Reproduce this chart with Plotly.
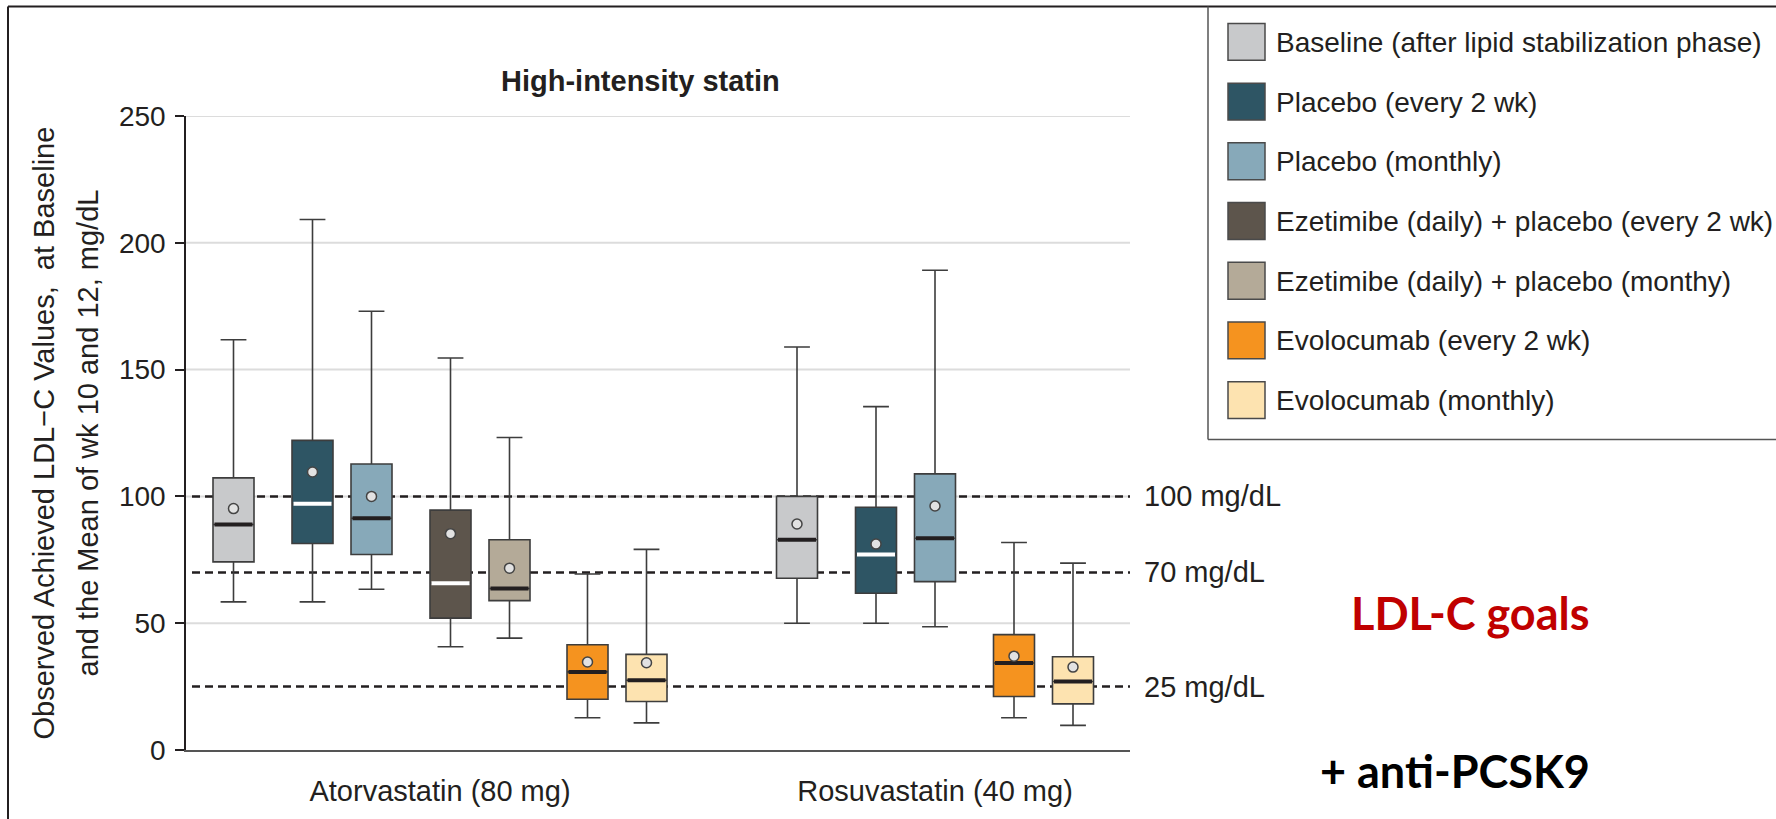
import plotly.graph_objects as go

# ---------------------------------------------------------------- data
treatments = [
    "Baseline (after lipid stabilization phase)",
    "Placebo (every 2 wk)",
    "Placebo (monthly)",
    "Ezetimibe (daily) + placebo (every 2 wk)",
    "Ezetimibe (daily) + placebo (monthy)",
    "Evolocumab (every 2 wk)",
    "Evolocumab (monthly)",
]
statins = ["Atorvastatin (80 mg)", "Rosuvastatin (40 mg)"]

# treatment indices shown in each statin group
atorva_arms = [0, 1, 2, 3, 4, 5, 6]
rosuva_arms = [0, 1, 2, 5, 6]

# LDL-C, mg/dL: whisker low, Q1, median, Q3, whisker high, mean
atorva_low = [58.4, 58.4, 63.4, 40.7, 44.1, 12.7, 10.7]
atorva_q1 = [74.2, 81.4, 77.1, 52.0, 58.9, 20.0, 19.1]
atorva_median = [88.9, 97.1, 91.4, 65.8, 63.7, 30.8, 27.5]
atorva_q3 = [107.3, 122.1, 112.8, 94.6, 82.9, 41.5, 37.7]
atorva_high = [161.8, 209.2, 173.0, 154.6, 123.2, 69.4, 79.1]
atorva_mean = [95.2, 109.6, 100.0, 85.3, 71.7, 34.7, 34.4]

rosuva_low = [50.0, 50.0, 48.6, 12.7, 9.7]
rosuva_q1 = [67.7, 61.8, 66.4, 21.1, 18.2]
rosuva_median = [82.9, 77.1, 83.5, 34.3, 27.0]
rosuva_q3 = [100.0, 95.7, 108.9, 45.5, 36.8]
rosuva_high = [158.9, 135.4, 189.2, 81.8, 73.7]
rosuva_mean = [89.1, 81.2, 96.2, 37.0, 32.7]

goal_values = [100, 70, 25]
goal_labels = ["100 mg/dL", "70 mg/dL", "25 mg/dL"]
y_ticks = [0, 50, 100, 150, 200, 250]

# ---------------------------------------------------------------- style
fill_colors = ["#c8c9cb", "#2e5564", "#87a9b9", "#5d554c", "#b4aa98", "#f5931f", "#fde3b0"]
median_colors = ["#231f20", "#ffffff", "#231f20", "#ffffff", "#231f20", "#231f20", "#231f20"]
edge = "#3d3d3d"
ink = "#231f20"
txt_font = "Liberation Sans, Arial, sans-serif"

FIG_W, FIG_H = 1776, 819
L, R, T, B = 186, 1130, 116, 753           # plot area in pixels
SLOTS = [0, 79, 138, 217, 276, 354, 413]    # box offsets inside a group
GROUP_START = [47.5, 611]
BOX_W = 41


def px(xp):
    return (xp - L) / (R - L)


def py(yp):
    return (B - yp) / (B - T)


groups = [
    (atorva_arms, atorva_low, atorva_q1, atorva_median, atorva_q3, atorva_high, atorva_mean),
    (rosuva_arms, rosuva_low, rosuva_q1, rosuva_median, rosuva_q3, rosuva_high, rosuva_mean),
]

fig = go.Figure()
group_centers = []
for g, (arms, lo, q1, med, q3, hi, mean) in enumerate(groups):
    xs = [GROUP_START[g] + SLOTS[i] for i in range(len(arms))]
    group_centers.append((xs[0] + xs[-1]) / 2)
    for i, arm in enumerate(arms):
        fig.add_trace(go.Box(
            x=[xs[i]], q1=[q1[i]], median=[med[i]], q3=[q3[i]],
            lowerfence=[lo[i]], upperfence=[hi[i]],
            width=BOX_W, whiskerwidth=0.63, boxpoints=False,
            fillcolor=fill_colors[arm], line=dict(color=edge, width=1.6),
            name=treatments[arm], showlegend=False, hoverinfo="skip",
        ))
        fig.add_trace(go.Scatter(
            x=[xs[i] - BOX_W / 2 + 1.5, xs[i] + BOX_W / 2 - 1.5], y=[med[i], med[i]],
            mode="lines", line=dict(color=median_colors[arm], width=4),
            showlegend=False, hoverinfo="skip",
        ))
    fig.add_trace(go.Scatter(
        x=xs, y=mean, mode="markers",
        marker=dict(symbol="circle", size=10, color="#e2e2e2",
                    line=dict(color="#444444", width=1.5)),
        showlegend=False, hoverinfo="skip",
    ))

shapes = []
annotations = []

# horizontal grid, drawn under the goal lines and the boxes
for v in y_ticks[1:]:
    shapes.append(dict(type="line", xref="x", yref="y", x0=0, x1=R - L, y0=v, y1=v,
                       line=dict(color="#dcdcdc", width=2), layer="below"))

# goal lines and their labels
for v, lab in zip(goal_values, goal_labels):
    shapes.append(dict(type="line", xref="x", yref="y", x0=6, x1=R - L, y0=v, y1=v,
                       line=dict(color=ink, width=2.5, dash="8px,5px"), layer="below"))
    annotations.append(dict(xref="paper", yref="y", x=px(1142), y=v, text=lab,
                            xanchor="left", yanchor="middle", showarrow=False,
                            font=dict(family=txt_font, size=29, color=ink)))

# outer frame (top and left edges)
shapes.append(dict(type="line", xref="paper", yref="paper", x0=px(8), x1=px(1790),
                   y0=py(6), y1=py(6), line=dict(color=ink, width=2)))
shapes.append(dict(type="line", xref="paper", yref="paper", x0=px(8), x1=px(8),
                   y0=py(6), y1=py(830), line=dict(color=ink, width=2)))

# legend frame
shapes.append(dict(type="line", xref="paper", yref="paper", x0=px(1208), x1=px(1208),
                   y0=py(6), y1=py(441), line=dict(color="#555555", width=1.5)))
shapes.append(dict(type="line", xref="paper", yref="paper", x0=px(1208), x1=px(1790),
                   y0=py(441), y1=py(441), line=dict(color="#555555", width=1.5)))

# legend entries
for k, name in enumerate(treatments):
    top = 23 + 60 * k
    shapes.append(dict(type="rect", xref="paper", yref="paper",
                       x0=px(1228), x1=px(1265), y0=py(top + 37), y1=py(top),
                       fillcolor=fill_colors[k], line=dict(color="#4a4a4a", width=1.5)))
    annotations.append(dict(xref="paper", yref="paper", x=px(1274), y=py(top + 19),
                            text=name, xanchor="left", yanchor="middle", showarrow=False,
                            font=dict(family=txt_font, size=28, color=ink)))

# panel title
annotations.append(dict(xref="paper", yref="paper", x=px(640), y=py(81),
                        text="<b>High-intensity statin</b>", showarrow=False,
                        xanchor="center", yanchor="middle",
                        font=dict(family=txt_font, size=29, color=ink)))

# y-axis title, two lines
for xc, line_txt in [(44, "Observed Achieved LDL\u2212C Values,\u00a0 at Baseline"),
                     (88, "and the Mean of wk 10 and 12, mg/dL")]:
    annotations.append(dict(xref="paper", yref="paper", x=px(xc), y=py(435),
                            text=line_txt, textangle=-90, showarrow=False,
                            xanchor="center", yanchor="middle",
                            font=dict(family=txt_font, size=29, color=ink)))

# side notes
annotations.append(dict(xref="paper", yref="paper", x=px(1470), y=py(615),
                        text="<b>LDL-C goals</b>", showarrow=False,
                        xanchor="center", yanchor="middle",
                        font=dict(family="Lato, sans-serif", size=45, color="#c00000")))
annotations.append(dict(xref="paper", yref="paper", x=px(1455), y=py(774),
                        text="<b>+ anti-PCSK9</b>", showarrow=False,
                        xanchor="center", yanchor="middle",
                        font=dict(family="Lato, sans-serif", size=45, color="#000000")))

fig.update_layout(
    width=FIG_W, height=FIG_H,
    margin=dict(l=L, r=FIG_W - R, t=T, b=FIG_H - B, pad=0),
    paper_bgcolor="white", plot_bgcolor="rgba(0,0,0,0)",
    showlegend=False, boxmode="overlay",
    shapes=shapes, annotations=annotations,
    xaxis=dict(range=[0, R - L], tickvals=group_centers, ticktext=statins,
               showgrid=False, zeroline=False, showline=True, linecolor="#555555",
               linewidth=1.5, ticks="", ticklabelstandoff=14,
               tickfont=dict(family=txt_font, size=29, color=ink)),
    yaxis=dict(range=[0, 250], tickvals=y_ticks, showgrid=False,
               zeroline=False, showline=True, linecolor=ink, linewidth=1.5,
               ticks="outside", ticklen=9, tickwidth=1.5, tickcolor=ink,
               ticklabelstandoff=4,
               tickfont=dict(family=txt_font, size=28, color=ink)),
)

fig.write_html("out.html")
